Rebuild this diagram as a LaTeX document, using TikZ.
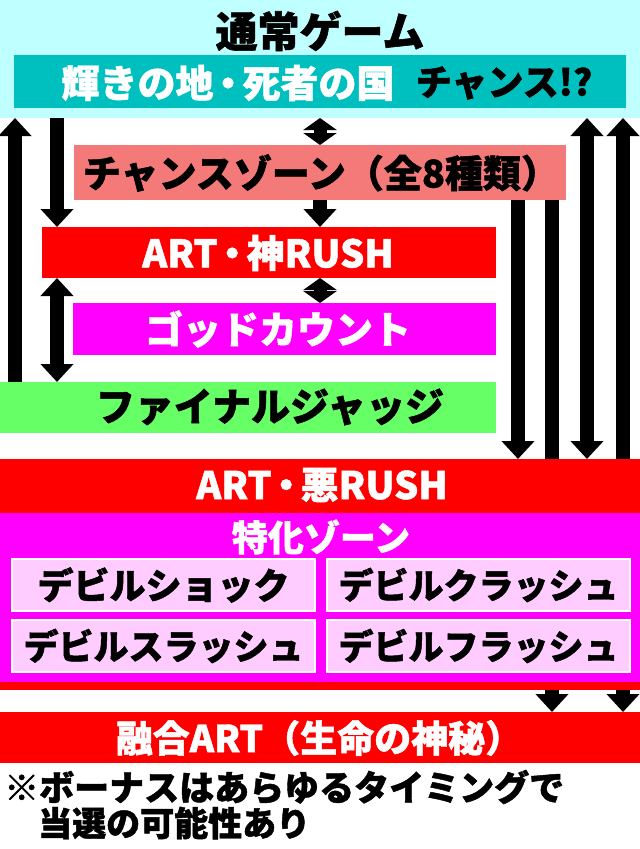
\documentclass[tikz,border=0pt]{standalone}
\usepackage{fontspec}
\setmainfont{Noto Sans CJK JP}[BoldFeatures={FakeBold=1.3}]
\usetikzlibrary{arrows.meta,backgrounds}
\definecolor{cyanbg}{HTML}{C0FFFF}
\definecolor{tealbox}{HTML}{00BFBF}
\definecolor{salmon}{HTML}{F47A7A}
\definecolor{redbox}{HTML}{FF0000}
\definecolor{magbox}{HTML}{FF00FF}
\definecolor{greenbox}{HTML}{66FF66}
\definecolor{pinkbox}{HTML}{FFCCFF}
\newcommand{\ndot}{\hspace{-0.12em}・\hspace{-0.12em}}
\begin{document}
\begin{tikzpicture}[x=1pt,y=-1pt,
  box/.style={inner sep=0pt, outer sep=0pt, anchor=north west, draw=none},
  txt/.style={inner sep=0pt, font=\bfseries\fontsize{#1pt}{#1pt}\selectfont},
  arr/.style={line width=14pt, -{Triangle[width=32pt,length=18pt]}},
  darr/.style={line width=14pt, {Triangle[width=32pt,length=18pt]}-{Triangle[width=32pt,length=18pt]}},
  sdarr/.style={line width=13pt, {Triangle[width=33pt,length=12pt]}-{Triangle[width=33pt,length=12pt]}},
  devil/.style={box, fill=pinkbox, draw=white, line width=2pt, minimum width=303pt, minimum height=52pt}
]
\useasboundingbox (0,0) rectangle (640,849);

% columns for connectors
\coordinate (c1) at (15,0);
\coordinate (c2) at (57,0);
\coordinate (c3) at (320,0);
\coordinate (c4) at (518,0);
\coordinate (c5) at (552,0);
\coordinate (c6) at (587,0);
\coordinate (c7) at (623,0);

% boxes
\node[box, fill=cyanbg, minimum width=640pt, minimum height=118pt] (cyan) at (0,0) {};
\node[box, fill=tealbox, minimum width=612pt, minimum height=53pt] (teal) at (14,55) {};
\node[box, fill=salmon, minimum width=492pt, minimum height=55pt] (chance) at (74,145) {};
\node[box, fill=redbox, minimum width=454pt, minimum height=51pt] (kami) at (42,227) {};
\node[box, fill=magbox, minimum width=423pt, minimum height=52pt] (god) at (73,303) {};
\node[box, fill=greenbox, minimum width=496pt, minimum height=51pt] (final) at (0,382) {};
\node[box, fill=redbox, minimum width=640pt, minimum height=231pt] (aku) at (0,459) {};
\node[box, fill=magbox, minimum width=640pt, minimum height=169pt] (tokka) at (0,513) {};
\node[devil] (d1) at (12,559) {};
\node[devil] (d2) at (327,559) {};
\node[devil] (d3) at (12,620) {};
\node[devil] (d4) at (327,620) {};
\node[box, fill=redbox, minimum width=640pt, minimum height=51pt] (fuse) at (0,712) {};

% connectors
\begin{pgfonlayer}{background}
\fill[white] (0,0) rectangle (640,849);
\draw[arr] (final.north -| c1) -- (cyan.south -| c1);
\draw[arr] (cyan.south -| c2) -- (kami.north -| c2);
\draw[sdarr] (cyan.south -| c3) -- (chance.north -| c3);
\draw[arr] (chance.south -| c3) -- (kami.north -| c3);
\draw[sdarr] (kami.south -| c3) -- (god.north -| c3);
\draw[darr] (kami.south -| c2) -- (final.north -| c2);
\draw[arr] (chance.south -| c4) -- (aku.north -| c4);
\draw[arr] (chance.south -| c5) -- (fuse.north -| c5);
\draw[darr] (aku.north -| c6) -- (cyan.south -| c6);
\draw[darr] (fuse.north -| c7) -- (cyan.south -| c7);
\end{pgfonlayer}

% texts
\node[txt=42] (t-title) at (320,31) {通常ゲーム};
\node[txt=38, text=white] (t-hikari) at (228,83) {輝きの地\ndot 死者の国};
\node[txt=36] (t-chance) at (504,83) {チャンス!?};
\node[txt=38] (t-cz) at (321,173) {チャンスゾーン（全8種類）};
\node[txt=38, text=white] (t-kami) at (268,253) {ART\ndot 神RUSH};
\node[txt=38, text=white] (t-god) at (278,329) {ゴッドカウント};
\node[txt=39] (t-final) at (270,407) {ファイナルジャッジ};
\node[txt=38, text=white] (t-aku) at (322,485) {ART\ndot 悪RUSH};
\node[txt=36, text=white] (t-tokka) at (321,537) {特化ゾーン};
\node[txt=36] (t-d1) at (d1.center) {デビルショック};
\node[txt=35] (t-d2) at (d2.center) {デビルクラッシュ};
\node[txt=35] (t-d3) at (d3.center) {デビルスラッシュ};
\node[txt=35] (t-d4) at (d4.center) {デビルフラッシュ};
\node[txt=37, text=white] (t-fuse) at (319,738) {融合ART（生命の神秘）};
\node[txt=35, anchor=west] (t-note1) at (4,787) {※ボーナスはあらゆるタイミングで};
\node[txt=34, anchor=west] (t-note2) at (38,823) {当選の可能性あり};
\end{tikzpicture}
\end{document}
